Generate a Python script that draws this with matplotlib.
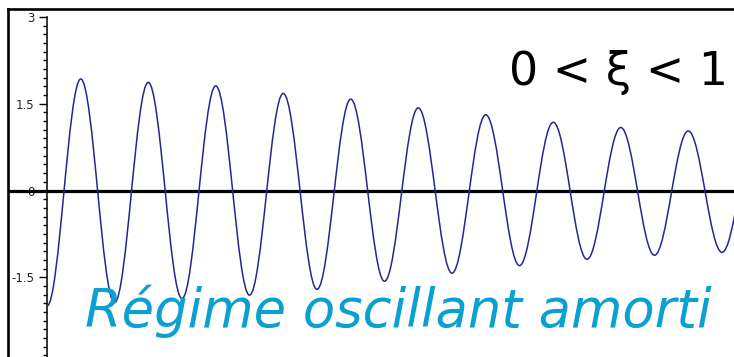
import matplotlib
matplotlib.use("Agg")
import matplotlib.pyplot as plt
from matplotlib.path import Path
from matplotlib.patches import PathPatch
from matplotlib.lines import Line2D
from matplotlib.ticker import MultipleLocator

# Extrema of the damped oscillation (time in periods)
ext_t = [0.0, 0.5, 1.0, 1.5, 2.0, 2.5, 3.0, 3.5, 4.0, 4.5, 5.0,
         5.5, 6.0, 6.5, 7.0, 7.5, 8.0, 8.5, 9.0, 9.5, 10.0, 10.5]
ext_y = [-2.00, 1.93, -1.94, 1.87, -1.87, 1.81, -1.81, 1.68, -1.71, 1.58, -1.57,
         1.43, -1.43, 1.31, -1.30, 1.18, -1.19, 1.09, -1.12, 1.03, -1.07, 1.00]

ytick_major = [3.0, 1.5, 0.0, -1.5]
ytick_labels = ["3", "1.5", "0", "-1.5"]

W, H = 734, 357
fig = plt.figure(figsize=(W / 100, H / 100), dpi=100)

# geometry (pixels)
frame_left, frame_top = 8, 8.5
x0_px, per_px = 47.0, 67.5
y0_px, unit_px = 190.5, 57.8

ax = fig.add_axes([frame_left / W, 0, 1 - frame_left / W, 1 - frame_top / H])
ax.set_xlim((frame_left - x0_px) / per_px, (W - x0_px) / per_px)
ax.set_ylim((y0_px - H) / unit_px, (y0_px - frame_top) / unit_px)
ax.patch.set_alpha(0)

for s in ["top", "right", "bottom"]:
    ax.spines[s].set_visible(False)
ax.spines["left"].set_position(("data", 0))
ax.spines["left"].set_bounds(-4, 3)
ax.spines["left"].set_linewidth(1.1)
ax.set_xticks([])
ax.set_yticks(ytick_major)
ax.set_yticklabels(ytick_labels)
ax.yaxis.set_minor_locator(MultipleLocator(0.15))
ax.tick_params(axis="y", which="major", direction="out", length=5.5, width=1.0,
               pad=3.5, labelsize=8.5, labelcolor="#222222")
ax.tick_params(axis="y", which="minor", direction="out", length=3.0, width=1.0)

# zero line
ax.axhline(0, color="black", lw=2.3, zorder=2)

# smooth curve through extrema (cubic Bezier with horizontal tangents)
k = 0.3634
verts = [(ext_t[0], ext_y[0])]
codes = [Path.MOVETO]
for i in range(len(ext_t) - 1):
    ta, ya, tb, yb = ext_t[i], ext_y[i], ext_t[i + 1], ext_y[i + 1]
    h = tb - ta
    verts += [(ta + k * h, ya), (tb - k * h, yb), (tb, yb)]
    codes += [Path.CURVE4] * 3
ax.add_patch(PathPatch(Path(verts, codes), fill=False, edgecolor="#262693",
                       lw=1.1, zorder=3))

# outer frame
fig.add_artist(Line2D([frame_left / W, frame_left / W], [0, 1 - frame_top / H],
                      transform=fig.transFigure, color="black", lw=1.9))
fig.add_artist(Line2D([frame_left / W, 1], [1 - frame_top / H, 1 - frame_top / H],
                      transform=fig.transFigure, color="black", lw=1.9))

fig.text(728 / W, 1 - 85 / H, "0 < ξ < 1", ha="right", va="baseline",
         fontsize=33, family="DejaVu Sans", color="black")
fig.text(85 / W, 1 - 327 / H, "Régime oscillant amorti", ha="left", va="baseline",
         fontsize=38, family="DejaVu Sans", style="italic", color="#0aa0d0")

fig.savefig("out.png", dpi=100)
